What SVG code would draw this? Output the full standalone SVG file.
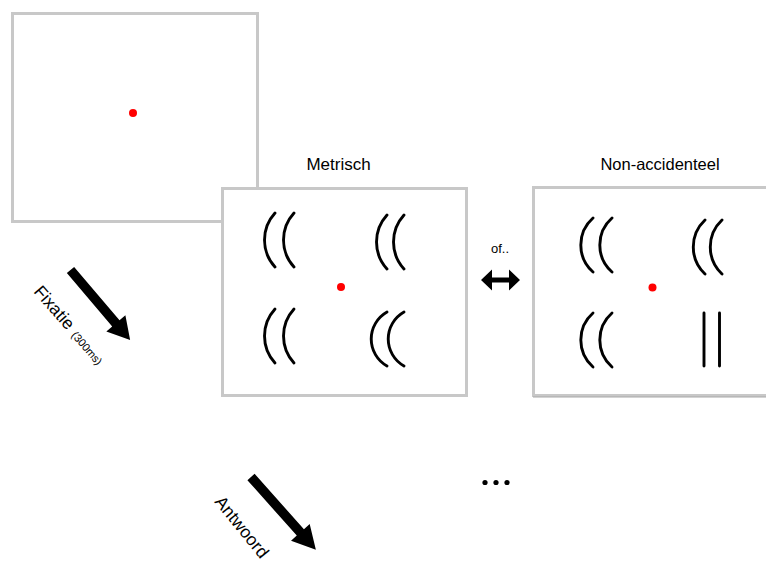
<svg xmlns="http://www.w3.org/2000/svg" width="766" height="561" viewBox="0 0 766 561">
  <style>
    .frame { fill: #ffffff; stroke: #c8c8c8; stroke-width: 3; }
    .fix { fill: #ff0000; }
    .bar { fill: none; stroke: #000000; stroke-width: 2.9; stroke-linecap: round; }
    .lbl { font-family: "Liberation Sans", Arial, sans-serif; fill: #000000; }
    .arrow { fill: #000000; }
  </style>
  <defs>
    <!-- thick block arrow pointing along +x, length 92 -->
    <polygon id="blockArrow" points="0,-4.8 70,-4.8 70,-12.5 92,0 70,12.5 70,4.8 0,4.8"/>
  </defs>
  <rect width="766" height="561" fill="#ffffff"/>

  <!-- Fixation screen -->
  <g id="screen-fixation">
    <rect class="frame" x="12.5" y="13.5" width="245" height="208"/>
    <circle class="fix" cx="133" cy="113" r="4"/>
  </g>

  <!-- Metric-change display -->
  <g id="screen-metric">
    <rect class="frame" x="222.5" y="188.5" width="244" height="207"/>
    <circle class="fix" cx="341" cy="287" r="4"/>
    <path class="bar" d="M275,213 A40,40 0 0,0 275,267 M294,213 A40,40 0 0,0 294,267"/>
    <path class="bar" d="M387,215 A40,40 0 0,0 387,269 M404,215 A40,40 0 0,0 404,269"/>
    <path class="bar" d="M275,309 A40,40 0 0,0 275,363 M294,309 A40,40 0 0,0 294,363"/>
    <path class="bar" d="M387,312 A31,31 0 0,0 387,366 M404,312 A31,31 0 0,0 404,366"/>
    <text class="lbl" x="338.5" y="170" font-size="17" text-anchor="middle">Metrisch</text>
  </g>

  <!-- Non-accidental-change display -->
  <g id="screen-nonaccidental">
    <rect class="frame" x="533.5" y="187.5" width="244" height="208"/>
    <line x1="533" y1="397" x2="766" y2="397" stroke="#a8a8a8" stroke-width="1"/>
    <circle class="fix" cx="652.5" cy="287.5" r="4"/>
    <path class="bar" d="M593,218 A36,36 0 0,0 593,272 M612,218 A36,36 0 0,0 612,272"/>
    <path class="bar" d="M705,220 A37,37 0 0,0 705,274 M722,220 A37,37 0 0,0 722,274"/>
    <path class="bar" d="M593,313 A36,36 0 0,0 593,367 M612,313 A36,36 0 0,0 612,367"/>
    <path class="bar" d="M704,313 L704,366 M719.5,313 L719.5,366"/>
    <text class="lbl" x="660" y="170" font-size="16.5" text-anchor="middle">Non-accidenteel</text>
  </g>

  <!-- "or" choice marker between the two displays -->
  <g id="choice">
    <text class="lbl" x="500" y="253" font-size="13" text-anchor="middle">of..</text>
    <polygon class="arrow" points="481,280 492,269.5 492,277.5 509,277.5 509,269.5 520,280 509,290.5 509,282.5 492,282.5 492,290.5"/>
  </g>

  <!-- Step arrows -->
  <g id="connectors">
    <use href="#blockArrow" class="arrow" transform="translate(70.5,270) rotate(49.6)"/>
    <use href="#blockArrow" class="arrow" transform="translate(251,477) rotate(48.3) scale(1.06,1)"/>
  </g>

  <g id="label-fixation">
    <text class="lbl" font-size="17.5" transform="translate(33,292) rotate(49)">Fixatie<tspan font-size="11" dx="6">(300ms)</tspan></text>
  </g>
  <g id="label-response">
    <text class="lbl" font-size="17.5" transform="translate(214,502) rotate(51)">Antwoord</text>
  </g>

  <!-- Continuation dots -->
  <g id="ellipsis">
    <circle cx="485" cy="482.5" r="2.6"/>
    <circle cx="496" cy="482.5" r="2.6"/>
    <circle cx="507" cy="482.5" r="2.6"/>
  </g>
</svg>
